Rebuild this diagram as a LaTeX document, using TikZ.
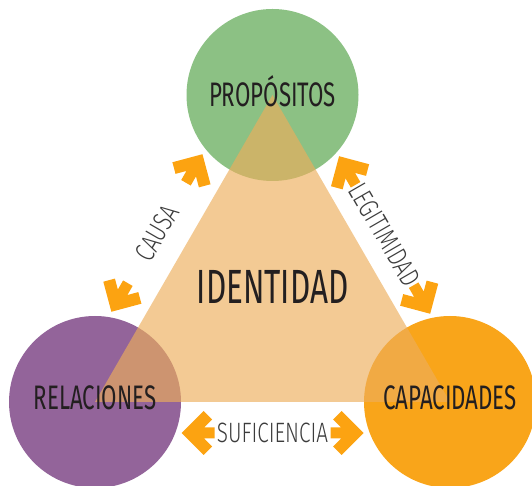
\documentclass[tikz,border=0pt]{standalone}
\usepackage{fontspec}
\usetikzlibrary{calc}
\usepackage{tkz-euclide}
\newfontfamily\labelfont{Fira Sans}[FakeStretch=0.655]
\newfontfamily\edgefont{Fira Sans Light}[FakeStretch=0.74]
\definecolor{PropClr}{HTML}{8CC184}
\definecolor{RelClr}{HTML}{93649A}
\definecolor{CapClr}{HTML}{F9A51A}
\definecolor{IdClr}{HTML}{EDAE5B}
\definecolor{ArrowClr}{HTML}{FCA311}
\definecolor{TextClr}{HTML}{231F20}
\definecolor{EdgeTextClr}{HTML}{3C3C3C}

\tikzset{
  circ/.style={circle,minimum size=172pt,inner sep=0pt},
  circtext/.style={text=TextClr,inner sep=0pt,font=\labelfont\fontsize{34}{34}\selectfont,text height=23pt,text depth=0pt},
  idtext/.style={circtext,font=\labelfont\fontsize{48}{48}\selectfont,text height=33pt},
  edgelabel/.style={text=EdgeTextClr,inner sep=0pt,font=\edgefont\fontsize{28}{28}\selectfont,text height=19pt,text depth=0pt},
  fatarrow/.pic={\fill[ArrowClr] (0,0) -- (-22,22) -- (-30.5,13.5) -- (-22.5,5.5) -- (-33,5.5)
    -- (-33,-5.5) -- (-22.5,-5.5) -- (-30.5,-13.5) -- (-22,-22) -- cycle;}
}

\begin{document}
\begin{tikzpicture}[x=1pt,y=1pt]
\useasboundingbox (0,0) rectangle (532,486);

\tkzDefPoints{95/84/R,450/84/C,272.5/391/P}

\node[circ,fill=RelClr] (rel) at (R) {};
\node[circ,fill=CapClr] (cap) at (C) {};
\node[circ,fill=PropClr] (prop) at (P) {};

\tkzFillPolygon[fill=IdClr,fill opacity=0.65](P,R,C)

\node[circtext] (proptext) at (prop) {PROPÓSITOS};
\node[circtext,yshift=4pt] (reltext) at (rel) {RELACIONES};
\node[circtext,yshift=4pt] (captext) at (cap) {CAPACIDADES};
\node[idtext] (idtext) at ($(R)!0.5!(C)!0.376!(P)$) {IDENTIDAD};

\coordinate (causaA) at ($(rel.center)!31pt!90:(prop.center)$);
\coordinate (causaB) at ($(prop.center)!31pt!-90:(rel.center)$);
\coordinate (causa) at ($(causaA)!0.5!(causaB)$);
\node[edgelabel,rotate=60] (causatext) at (causa) {CAUSA};
\path ($(causa)!91pt!(causaB)$) pic[rotate=60]{fatarrow};
\path ($(causa)!91pt!(causaA)$) pic[rotate=240]{fatarrow};

\coordinate (legA) at ($(cap.center)!27pt!-90:(prop.center)$);
\coordinate (legB) at ($(prop.center)!27pt!90:(cap.center)$);
\coordinate (leg) at ($(legA)!0.5!(legB)$);
\node[edgelabel,rotate=-60] (legtext) at (leg) {LEGITIMIDAD};
\path ($(leg)!91pt!(legB)$) pic[rotate=120]{fatarrow};
\path ($(leg)!91pt!(legA)$) pic[rotate=-60]{fatarrow};

\coordinate (sufA) at ($(rel.center)!31pt!-90:(cap.center)$);
\coordinate (sufB) at ($(cap.center)!31pt!90:(rel.center)$);
\coordinate (suf) at ($(sufA)!0.5!(sufB)$);
\node[edgelabel] (suftext) at (suf) {SUFICIENCIA};
\path ($(suf)!91pt!(sufA)$) pic[rotate=180]{fatarrow};
\path ($(suf)!91pt!(sufB)$) pic{fatarrow};

\end{tikzpicture}
\end{document}
